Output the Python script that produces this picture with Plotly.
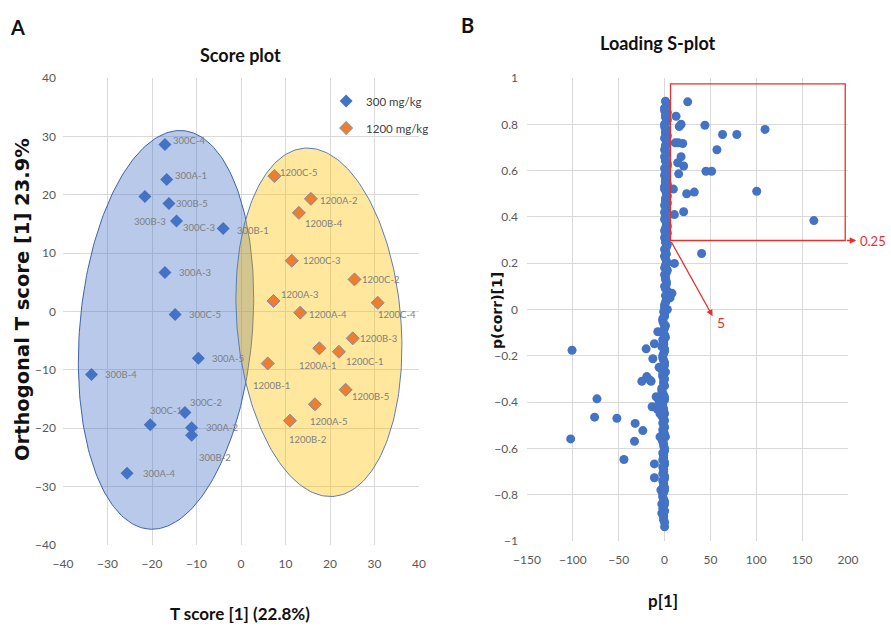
import numpy as np
import plotly.graph_objects as go

# ---------------- Panel A data (score plot) ----------------
labels_300 = ["300C-4", "300A-1", "300B-3", "300B-5", "300C-3", "300B-1", "300A-3", "300C-5",
              "300A-5", "300B-4", "300C-2", "300C-1", "300A-2", "300B-2", "300A-4"]
t1_300 = [-17.1, -16.7, -21.6, -16.2, -14.5, -4.0, -17.1, -14.8, -9.6, -33.6, -12.6, -20.4, -11.1, -11.1, -25.6]
to_300 = [28.6, 22.6, 19.7, 18.5, 15.5, 14.2, 6.7, -0.5, -8.0, -10.8, -17.3, -19.4, -19.9, -21.2, -27.7]

labels_1200 = ["1200C-5", "1200A-2", "1200B-4", "1200C-3", "1200C-2", "1200A-3", "1200C-4", "1200A-4",
               "1200B-3", "1200A-1", "1200C-1", "1200B-1", "1200B-5", "1200A-5", "1200B-2"]
t1_1200 = [7.5, 15.7, 13.0, 11.4, 25.5, 7.3, 30.7, 13.3, 25.1, 17.6, 22.0, 6.0, 23.5, 16.6, 11.0]
to_1200 = [23.2, 19.3, 16.9, 8.7, 5.5, 1.8, 1.5, -0.2, -4.6, -6.3, -6.9, -8.9, -13.4, -15.9, -18.7]

# label offsets (pixels): left-edge shift, vertical shift
dx_300 = [6, 6, -13, 5, 5, 12, 12, 12, 12, 12, 3, -2, 12, 5, 14]
dy_300 = [4, 4, -25, 0, -6, -2, 0, 0, 0, 0, 10, 14, 0, -22, 0]
dx_1200 = [4, 7, 4, 9, 5, 5, -2, 7, 5, -22, 5, -17, 4, -7, -3]
dy_1200 = [4, -2, -11, 0, 0, 6, -12, -2, 0, -17, -10, -22, -7, -17, -19]

# confidence ellipses: centre x, centre y, half-width, half-height, shear
ell_300 = (-16.85, -3.15, 19.45, 34.15, 0.092)
ell_1200 = (17.5, -1.85, 18.47, 29.85, -0.087)

# ---------------- Panel B data (loading S-plot) ----------------
p1_scatter = [25.2, 44, 63.2, 78.8, 109.6, 57.1, 45.1, 51.3, 100.5, 32.4, 24.1, 162.8, 20.8, 10.7, 9.6,
              40.4, 10.7, 12.5, 16, 18, 11.7, 19.8, 15, 18, 14.3, 20.8, 15.4, 6, 8,
              -100.9, -102.4, -73.7, -76.3, -52, -32.1, -23.7, -32.8, -44.3, -11.1, -11.1, -20.1,
              -11.1, -12.8, -7.4, -24.8, -19.4, -14.7, -13.6, -9.2, -16, -6, -5, -4, 0,
              -6, -8, -5, -3, -3]
pc_scatter = [0.897, 0.796, 0.756, 0.756, 0.778, 0.69, 0.597, 0.597, 0.511, 0.507, 0.50, 0.384, 0.422, 0.41, 0.52,
              0.242, 0.199, 0.835, 0.79, 0.80, 0.72, 0.717, 0.72, 0.66, 0.634, 0.62, 0.586, 0.05, 0.07,
              -0.176, -0.559, -0.386, -0.465, -0.47, -0.492, -0.523, -0.569, -0.648, -0.667, -0.727, -0.17,
              -0.148, -0.213, -0.096, -0.31, -0.29, -0.31, -0.42, -0.377, -0.305, -0.25, -0.55, -0.78, -0.939,
              -0.40, -0.43, -0.45, -0.84, -0.88]

p1_column = [1, 2, 0, 3, 1, 2, 0, 1, 3, 2, 1, 0, 2, 1, 3, 0, 1, 2, 1, 0, 2, 3, 1, 0, 2, 1, 0, 2, 1, 3,
             0, 1, 2, 1, 0, 2, 1, 3, 0, 1, 2, 1, 3, 2, 1, 0,
             -1, 0, -2, 1, -1, 0, -2, -1, 0, -1, -2, 0, -1, 1, -2, -1, 0, -3, -1, 0, -2, -1, 0, -1,
             -2, 0, -1, 1, -2, -1, 0, -1, -2, 0, -1, -2, 0, -1, 0, -1, -2, 0, -1, 0, -1, -1,
             2, 0, 1, 3, 0, 2, 1, 0, 3, 1, 2, 0, 1, 3, 2, 0, 1, 3, 0, 2, 1, 3, 2, 0, 1, 2, 3, 0, 1, 2,
             3, 0, 2, 1, 3, 0, 2, 1, 2, 0, 3, 1, 2, 0, 3,
             0, -2, -1, 0, -2, 1, -1, -3, 0, -2, -1, 0, -3, -2, 0, -1, -3, -2, 0, -4, -2, -1, -3, 0,
             -1, -2, 0, -3, -1, 0, -2, -1, 0, -2, -1, 0, -2, -1, 0, -2, -1, 0, -2, -1, -1, 0]
pc_column = [0.90, 0.88, 0.87, 0.85, 0.83, 0.81, 0.79, 0.77, 0.75, 0.73, 0.71, 0.69, 0.67, 0.65, 0.63,
             0.61, 0.59, 0.57, 0.55, 0.53, 0.51, 0.49, 0.47, 0.45, 0.43, 0.41, 0.39, 0.37, 0.35, 0.33,
             0.31, 0.29, 0.27, 0.25, 0.23, 0.21, 0.19, 0.17, 0.15, 0.13, 0.11, 0.09, 0.07, 0.05, 0.03, 0.01,
             -0.01, -0.03, -0.05, -0.07, -0.09, -0.11, -0.13, -0.15, -0.17, -0.19, -0.21, -0.23, -0.25,
             -0.27, -0.29, -0.31, -0.33, -0.35, -0.37, -0.39, -0.41, -0.43, -0.45, -0.47, -0.49, -0.51,
             -0.53, -0.55, -0.57, -0.59, -0.61, -0.63, -0.65, -0.67, -0.69, -0.71, -0.73, -0.75, -0.77,
             -0.79, -0.81, -0.83, -0.85, -0.87, -0.89, -0.91,
             0.89, 0.86, 0.84, 0.82, 0.80, 0.78, 0.76, 0.74, 0.72, 0.70, 0.68, 0.66, 0.64, 0.62, 0.60,
             0.58, 0.56, 0.54, 0.52, 0.50, 0.48, 0.46, 0.44, 0.42, 0.40, 0.38, 0.36, 0.34, 0.32, 0.30,
             0.28, 0.26, 0.24, 0.22, 0.20, 0.18, 0.16, 0.14, 0.12, 0.10, 0.08, 0.06, 0.04, 0.02, 0.00,
             -0.02, -0.04, -0.06, -0.08, -0.10, -0.12, -0.14, -0.16, -0.18, -0.20, -0.22, -0.24, -0.26,
             -0.28, -0.30, -0.32, -0.34, -0.36, -0.38, -0.40, -0.42, -0.44, -0.46, -0.48, -0.50, -0.52,
             -0.54, -0.56, -0.58, -0.60, -0.62, -0.64, -0.66, -0.68, -0.70, -0.72, -0.74, -0.76, -0.78,
             -0.80, -0.82, -0.84, -0.86, -0.88, -0.90, -0.92]

p1_all = p1_scatter + p1_column
pc_all = pc_scatter + pc_column

# selection box: p[1] > 5, p(corr) > 0.25
box_x = [6.5, 197]
box_y = [0.298, 0.975]

BLUE = "#4472C4"
ORANGE = "#ED7D31"
RED = "rgb(232,48,42)"
GRID = "#d9d9d9"
TICK = dict(family="Lato", size=12, color="#595959")


def ellipse(params, n=240):
    cx, cy, a, b, s = params
    t = np.linspace(0, 2 * np.pi, n)
    return cx + a * np.cos(t) + s * b * np.sin(t), cy + b * np.sin(t)


fig = go.Figure()

ex, ey = ellipse(ell_300)
fig.add_trace(go.Scatter(x=ex, y=ey, mode="lines", fill="toself",
                         fillcolor="rgba(68,114,196,0.38)", line=dict(color="#3f63a8", width=1),
                         showlegend=False, hoverinfo="skip", xaxis="x", yaxis="y"))
ex, ey = ellipse(ell_1200)
fig.add_trace(go.Scatter(x=ex, y=ey, mode="lines", fill="toself",
                         fillcolor="rgba(255,192,0,0.38)", line=dict(color="#5b7db8", width=1),
                         showlegend=False, hoverinfo="skip", xaxis="x", yaxis="y"))

fig.add_trace(go.Scatter(x=t1_300, y=to_300, mode="markers", name="300 mg/kg",
                         marker=dict(symbol="diamond", size=10, color=BLUE),
                         legendgroup="a", xaxis="x", yaxis="y"))
fig.add_trace(go.Scatter(x=t1_1200, y=to_1200, mode="markers", name="1200 mg/kg",
                         marker=dict(symbol="diamond", size=10, color=ORANGE,
                                     line=dict(color="#7f8fa6", width=1)),
                         legendgroup="b", xaxis="x", yaxis="y"))

fig.add_trace(go.Scatter(x=p1_all, y=pc_all, mode="markers",
                         marker=dict(symbol="circle", size=9, color=BLUE),
                         showlegend=False, xaxis="x2", yaxis="y2"))

annotations = []
for lab, x, y, dx, dy in zip(labels_300 + labels_1200, t1_300 + t1_1200, to_300 + to_1200,
                             dx_300 + dx_1200, dy_300 + dy_1200):
    annotations.append(dict(x=x, y=y, xref="x", yref="y", text=lab, showarrow=False,
                            xanchor="left", yanchor="middle", xshift=dx, yshift=dy,
                            font=dict(family="Lato", size=9.5, color="#7f7f7f")))


def ptext(x, y, text, font, angle=0, xanchor="center"):
    return dict(x=x, y=y, xref="paper", yref="paper", text=text, showarrow=False,
                xanchor=xanchor, yanchor="middle", textangle=angle, font=font)


TITLE = dict(family="Lato", size=18, color="#111111")
BIG = dict(family="Lato", size=20, color="#111111")
AXT = dict(family="Lato", size=17, color="#111111")
annotations += [
    ptext(0.020, 0.957, "<b>A</b>", BIG),
    ptext(0.2694, 0.9123, "<b>Score plot</b>", TITLE),
    ptext(0.525, 0.960, "<b>B</b>", BIG),
    ptext(0.7385, 0.9314, "<b>Loading S-plot</b>", TITLE),
    ptext(0.2694, 0.0223, "<b>T score [1] (22.8%)</b>", AXT),
    ptext(0.7441, 0.0415, "<b>p[1]</b>", AXT),
    ptext(0.0247, 0.5215, "<b>Orthogonal T score [1] 23.9%</b>",
          dict(family="DejaVu Sans", size=19.5, color="#111111"), angle=-90),
    ptext(0.5578, 0.5056, "<b>p(corr)[1]</b>",
          dict(family="DejaVu Sans", size=14, color="#111111"), angle=-90),
    ptext(0.963, 0.6156, "0.25", dict(family="Lato", size=13, color=RED), xanchor="left"),
    # red annotation arrows
    dict(x=209, y=box_y[0], xref="x2", yref="y2", ax=box_x[1], ay=box_y[0], axref="x2", ayref="y2",
         text="", showarrow=True, arrowhead=2, arrowsize=1, arrowwidth=1.3, arrowcolor=RED),
    dict(x=52.4, y=-0.029, xref="x2", yref="y2", ax=box_x[0], ay=box_y[0], axref="x2", ayref="y2",
         text="", showarrow=True, arrowhead=2, arrowsize=1, arrowwidth=1.3, arrowcolor=RED),
    dict(x=55, y=-0.058, xref="x2", yref="y2", text="5", showarrow=False, xanchor="left",
         yanchor="middle", font=dict(family="Lato", size=14, color=RED)),
]

shapes = [dict(type="rect", xref="x2", yref="y2", x0=box_x[0], x1=box_x[1], y0=box_y[0], y1=box_y[1],
               line=dict(color=RED, width=1.3), fillcolor="rgba(0,0,0,0)")]

fig.update_layout(
    width=891, height=627, margin=dict(l=0, r=0, t=0, b=0, autoexpand=False),
    paper_bgcolor="white", plot_bgcolor="white",
    showlegend=True,
    legend=dict(x=0.366, y=0.862, xanchor="left", yanchor="top", bgcolor="rgba(0,0,0,0)",
                font=dict(family="Lato", size=11.5, color="#404040"), traceorder="grouped",
                tracegroupgap=8),
    xaxis=dict(domain=[0.0707, 0.4703], range=[-40, 40], dtick=10, tick0=0, showgrid=True,
               gridcolor=GRID, zeroline=False, showline=False, tickfont=TICK, ticks="",
               ticklabelstandoff=10, anchor="y", automargin=False),
    yaxis=dict(domain=[0.1308, 0.8756], range=[-40, 40], dtick=10, tick0=0, showgrid=True,
               gridcolor=GRID, zeroline=False, showline=False, tickfont=TICK, ticks="",
               ticklabelstandoff=6, anchor="x", automargin=False),
    xaxis2=dict(domain=[0.5915, 0.9517], range=[-150, 200], dtick=50, tick0=0, showgrid=True,
                gridcolor=GRID, zeroline=False, showline=False, tickfont=TICK, ticks="",
                ticklabelstandoff=10, anchor="y2", automargin=False),
    yaxis2=dict(domain=[0.1372, 0.8756], range=[-1, 1], dtick=0.2, tick0=0, showgrid=True,
                gridcolor=GRID, zeroline=False, showline=False, tickfont=TICK, ticks="",
                ticklabelstandoff=8, anchor="x2", automargin=False),
    annotations=annotations, shapes=shapes,
)

fig.write_html("out.html", config={"displayModeBar": False},
               post_script="document.body.style.margin='0';")
